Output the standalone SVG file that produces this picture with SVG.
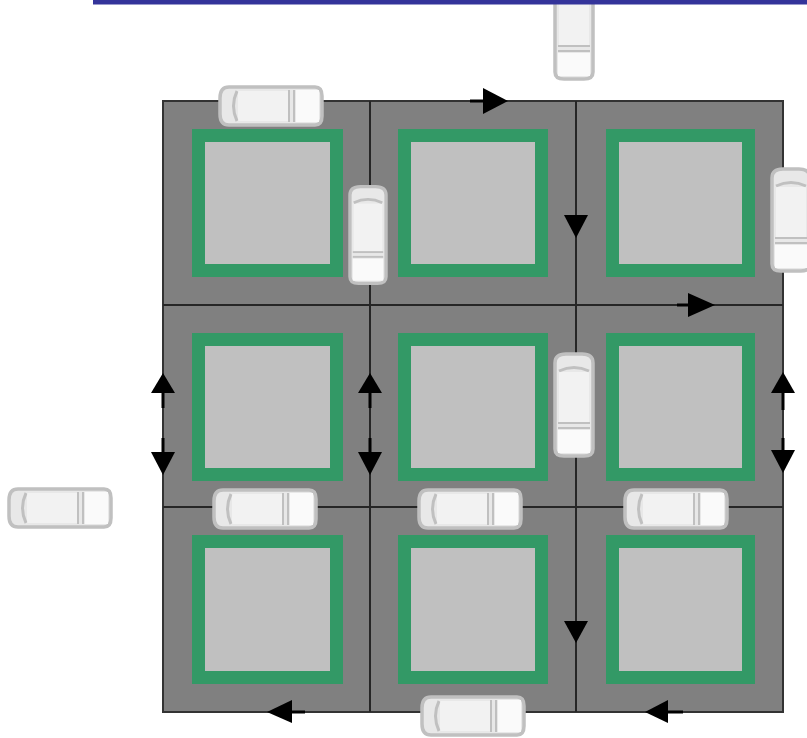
<svg xmlns="http://www.w3.org/2000/svg" xmlns:xlink="http://www.w3.org/1999/xlink" width="807" height="738" viewBox="0 0 807 738">
  <style>
    .road { fill: #808080; stroke: #333333; stroke-width: 2; }
    .street { stroke: #262626; stroke-width: 2; fill: none; }
    .block { fill: #c0c0c0; stroke: #339966; stroke-width: 13; }
    .head { fill: #000000; }
    .stem { stroke: #000000; stroke-width: 3; fill: none; }
    .car-line { stroke: #c0c0c0; fill: none; }
  </style>
  <defs>
    <!-- Vehicle seen from above, front pointing to -x, 104 x 42 -->
    <g id="car">
      <path d="M -42 -19 H 44 Q 51 -19 51 -10 V 10 Q 51 19 44 19 H -42 Q -51 19 -51 8 V -8 Q -51 -19 -42 -19 Z" fill="#e8e8e8" stroke="#c0c0c0" stroke-width="3.5"/>
      <rect x="-33" y="-15" width="50" height="30" fill="#f2f2f2"/>
      <rect x="25" y="-16" width="23" height="32" fill="#fafafa"/>
      <path class="car-line" d="M -34 -15 Q -41 0 -34 15" stroke-width="3"/>
      <line class="car-line" x1="18" y1="-16" x2="18" y2="16" stroke-width="2"/>
      <line class="car-line" x1="23" y1="-16" x2="23" y2="16" stroke-width="2"/>
    </g>
  </defs>

  <rect width="807" height="738" fill="#ffffff"/>

  <!-- road surface and street centre lines -->
  <g id="roads">
    <rect class="road" x="163" y="101" width="620" height="611"/>
    <line class="street" x1="370" y1="101" x2="370" y2="712"/>
    <line class="street" x1="576" y1="101" x2="576" y2="712"/>
    <line class="street" x1="163" y1="305" x2="783" y2="305"/>
    <line class="street" x1="163" y1="507" x2="783" y2="507"/>
  </g>

  <!-- city blocks -->
  <g id="block-1-1"><rect class="block" x="198.5" y="135.5" width="138" height="135"/></g>
  <g id="block-1-2"><rect class="block" x="404.5" y="135.5" width="137" height="135"/></g>
  <g id="block-1-3"><rect class="block" x="612.5" y="135.5" width="136" height="135"/></g>
  <g id="block-2-1"><rect class="block" x="198.5" y="339.5" width="138" height="135"/></g>
  <g id="block-2-2"><rect class="block" x="404.5" y="339.5" width="137" height="135"/></g>
  <g id="block-2-3"><rect class="block" x="612.5" y="339.5" width="136" height="135"/></g>
  <g id="block-3-1"><rect class="block" x="198.5" y="541.5" width="138" height="136"/></g>
  <g id="block-3-2"><rect class="block" x="404.5" y="541.5" width="137" height="136"/></g>
  <g id="block-3-3"><rect class="block" x="612.5" y="541.5" width="136" height="136"/></g>

  <!-- traffic direction arrows -->
  <g id="arrows">
    <!-- top edge, eastbound -->
    <line class="stem" x1="470" y1="101" x2="485" y2="101"/>
    <polygon class="head" points="483,88 508,101 483,114"/>
    <!-- x=576 southbound -->
    <polygon class="head" points="564,215 588,215 576,238"/>
    <polygon class="head" points="564,621 588,621 576,643"/>
    <!-- y=305 eastbound -->
    <line class="stem" x1="677" y1="305" x2="690" y2="305"/>
    <polygon class="head" points="688,293 715,305 688,317"/>
    <!-- bottom edge, westbound -->
    <line class="stem" x1="290" y1="712" x2="305" y2="712"/>
    <polygon class="head" points="292,700 267,712 292,723"/>
    <line class="stem" x1="666" y1="712" x2="683" y2="712"/>
    <polygon class="head" points="668,700 645,712 668,723"/>
    <!-- two-way streets -->
    <g id="twoway-163">
      <line class="stem" x1="163" y1="390" x2="163" y2="408"/>
      <polygon class="head" points="163,373 175,393 151,393"/>
      <line class="stem" x1="163" y1="438" x2="163" y2="455"/>
      <polygon class="head" points="151,452 175,452 163,475"/>
    </g>
    <g id="twoway-370">
      <line class="stem" x1="370" y1="390" x2="370" y2="408"/>
      <polygon class="head" points="370,373 382,393 358,393"/>
      <line class="stem" x1="370" y1="438" x2="370" y2="455"/>
      <polygon class="head" points="358,452 382,452 370,475"/>
    </g>
    <g id="twoway-783">
      <line class="stem" x1="783" y1="390" x2="783" y2="410"/>
      <polygon class="head" points="783,372 795,393 771,393"/>
      <line class="stem" x1="783" y1="438" x2="783" y2="453"/>
      <polygon class="head" points="771,450 795,450 783,473"/>
    </g>
  </g>

  <!-- vehicles -->
  <g id="car-1"><use xlink:href="#car" transform="translate(271,106)"/></g>
  <g id="car-2"><use xlink:href="#car" transform="translate(368,235) rotate(90) scale(0.95,0.95)"/></g>
  <g id="car-3"><use xlink:href="#car" transform="translate(574,28) rotate(90)"/></g>
  <g id="car-4"><use xlink:href="#car" transform="translate(791,220) rotate(90)"/></g>
  <g id="car-5"><use xlink:href="#car" transform="translate(574,405) rotate(90)"/></g>
  <g id="car-6"><use xlink:href="#car" transform="translate(60,508)"/></g>
  <g id="car-7"><use xlink:href="#car" transform="translate(265,509)"/></g>
  <g id="car-8"><use xlink:href="#car" transform="translate(470,509)"/></g>
  <g id="car-9"><use xlink:href="#car" transform="translate(676,509)"/></g>
  <g id="car-10"><use xlink:href="#car" transform="translate(473,716)"/></g>

  <!-- header rule -->
  <rect x="93" y="0" width="714" height="4.5" fill="#34349a"/>
</svg>
